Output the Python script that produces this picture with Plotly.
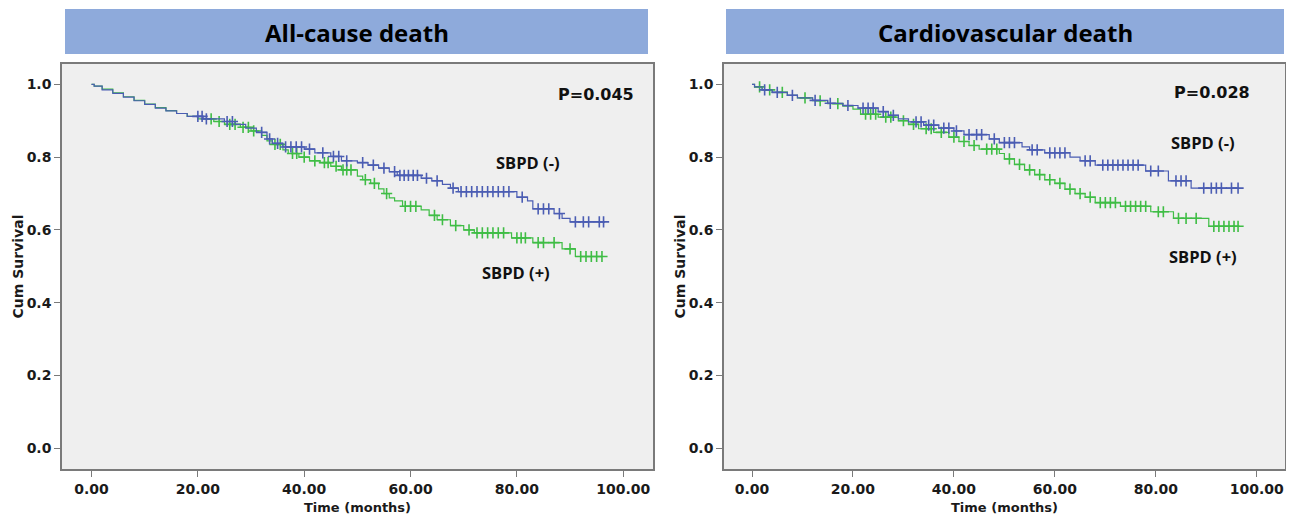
import numpy as np
import plotly.graph_objects as go

# ---------------- data ----------------
# All-cause death
ac_neg_t = [0, 0.5, 2, 4, 6, 8, 10, 12, 14, 16, 18, 21, 25, 27, 29, 31, 33, 34, 36, 40, 42, 45, 47, 50, 52, 54, 56, 57.5, 62, 64, 66, 67.5, 69, 80, 82, 83, 87, 88.5, 90, 96.5]
ac_neg_s = [1.0, 0.995, 0.985, 0.975, 0.965, 0.955, 0.945, 0.935, 0.927, 0.92, 0.912, 0.905, 0.898, 0.89, 0.88, 0.868, 0.85, 0.838, 0.828, 0.822, 0.812, 0.802, 0.79, 0.785, 0.778, 0.77, 0.76, 0.75, 0.742, 0.735, 0.725, 0.715, 0.705, 0.69, 0.68, 0.658, 0.645, 0.632, 0.622, 0.622]
ac_neg_cens = [20, 20.8, 21.6, 25.5, 26.5, 32, 33.5, 35, 36.5, 37.5, 38.5, 39.5, 41, 43.5, 45.5, 46.5, 48, 51, 53, 55, 57, 58, 58.8, 59.6, 60.5, 61.3, 63, 65, 68, 69.5, 70.5, 71.5, 72.5, 73.5, 74.5, 75.5, 76.5, 77.5, 78.5, 81, 84, 85, 86, 88, 91, 92.5, 93.5, 95.5, 96.3]
ac_pos_t = [0, 0.5, 2, 4, 6, 8, 10, 12, 14, 16, 18, 20, 23, 25, 28, 30, 32, 33, 34, 36, 37, 39, 41, 43, 45, 47, 50, 51, 52.5, 54, 55, 56, 57, 58.5, 62, 63.5, 65, 67.5, 70, 72, 79, 83, 88.5, 91, 96.5]
ac_pos_s = [1.0, 0.995, 0.987, 0.977, 0.966, 0.956, 0.946, 0.936, 0.928, 0.92, 0.912, 0.905, 0.898, 0.89, 0.882, 0.872, 0.86, 0.845, 0.835, 0.82, 0.81, 0.8, 0.79, 0.785, 0.775, 0.765, 0.748, 0.738, 0.728, 0.713, 0.7, 0.688, 0.68, 0.665, 0.655, 0.64, 0.628, 0.612, 0.6, 0.592, 0.578, 0.565, 0.548, 0.527, 0.527]
ac_pos_cens = [22.5, 24, 26, 27, 28.5, 29.5, 30.5, 34.5, 35.5, 37.8, 38.6, 40, 42, 43.8, 44.5, 46, 47.3, 48, 48.8, 51.5, 53.2, 55.5, 59, 60, 61, 64.5, 66, 68.5, 71, 72.5, 73.5, 74.5, 75.5, 76.5, 77.5, 80, 80.8, 81.6, 84, 85, 87, 90, 92, 93, 94, 95, 96]

# Cardiovascular death
cv_neg_t = [0, 0.5, 2, 4, 7, 9, 12, 15, 18, 21, 25, 27, 29, 31, 34, 37, 40, 42, 47, 49, 53.5, 55, 58, 63, 65, 68, 78, 82.5, 87, 96.5]
cv_neg_s = [1.0, 0.993, 0.985, 0.978, 0.97, 0.963, 0.956, 0.948, 0.942, 0.935, 0.925, 0.915, 0.905, 0.897, 0.888, 0.88, 0.872, 0.862, 0.85, 0.84, 0.828, 0.82, 0.812, 0.8, 0.79, 0.778, 0.762, 0.735, 0.715, 0.715]
cv_neg_cens = [2.5, 5, 8, 12.5, 15.5, 19, 22, 23, 24, 26, 28, 32.5, 33.5, 35, 36, 38, 39, 40.5, 43, 44.5, 45.5, 48, 50, 51, 52, 55.5, 56.5, 59, 60, 61, 62, 66, 67, 69.5, 70.5, 71.5, 72.5, 73.5, 74.5, 75.5, 76.5, 79, 80.5, 84, 85, 86, 89.5, 91, 92, 93, 95, 96.3]
cv_pos_t = [0, 0.5, 2, 4, 7, 9, 12, 15, 18, 20, 21.5, 25, 29, 31, 33, 36, 39, 41, 43, 45, 49, 50, 52, 54, 56, 58, 60, 62, 64, 66, 68, 73, 79, 83.5, 90.5, 96.5]
cv_pos_s = [1.0, 0.993, 0.985, 0.978, 0.97, 0.963, 0.955, 0.947, 0.94, 0.932, 0.918, 0.91, 0.9, 0.89, 0.878, 0.868, 0.855, 0.843, 0.832, 0.822, 0.81, 0.795, 0.78, 0.765, 0.752, 0.738, 0.728, 0.712, 0.7, 0.69, 0.675, 0.665, 0.65, 0.632, 0.61, 0.61]
cv_pos_cens = [1.5, 3.5, 6, 10.5, 13.5, 17, 22.5, 23.5, 24.5, 26.5, 27.5, 30, 32, 34.5, 35.5, 37.5, 40, 42, 44, 46.5, 47.5, 48.5, 51, 53, 55, 57, 59, 61, 63, 65, 67, 69, 70, 71, 72, 74, 75, 76, 77, 78, 80.5, 81.5, 84.5, 86, 88, 91.5, 92.5, 93.5, 94.5, 95.5, 96.3]

panel_titles = ["All-cause death", "Cardiovascular death"]
p_values = ["P=0.045", "P=0.028"]
group_labels = ["SBPD (-)", "SBPD (+)"]
x_ticks = [0, 20, 40, 60, 80, 100]
y_ticks = [0.0, 0.2, 0.4, 0.6, 0.8, 1.0]

BLUE = "#4b5db3"
GREEN = "#3fbd45"

# page has an 8px body margin: the figure starts at (8, 8)
OFF = 8
W, H = 1294 - OFF, 519 - OFF
SANS = "DejaVu Sans"
HEAD = "Open Sans"


def step_at(times, surv, t):
    idx = np.searchsorted(np.array(times), t, side="right") - 1
    return np.array(surv)[idx]


def px_x(p):
    return (p - OFF) / W


def px_y(p):
    return 1 - (p - OFF) / H


fig = go.Figure()

panels = [
    (ac_neg_t, ac_neg_s, ac_neg_cens, ac_pos_t, ac_pos_s, ac_pos_cens, "x", "y"),
    (cv_neg_t, cv_neg_s, cv_neg_cens, cv_pos_t, cv_pos_s, cv_pos_cens, "x2", "y2"),
]

for (nt, ns, nc, pt, ps, pc, xa, ya) in panels:
    for t, s, c, col in [(pt, ps, pc, GREEN), (nt, ns, nc, BLUE)]:
        fig.add_trace(go.Scatter(x=t, y=s, mode="lines", line=dict(color=col, width=1.2, shape="hv"),
                                 xaxis=xa, yaxis=ya, showlegend=False, hoverinfo="skip"))
        fig.add_trace(go.Scatter(x=c, y=step_at(t, s, c), mode="markers",
                                 marker=dict(symbol="cross-thin", size=8, line=dict(color=col, width=1.6)),
                                 xaxis=xa, yaxis=ya, showlegend=False, hoverinfo="skip"))

# geometry (page pixels)
plot_boxes = [(62, 653), (724, 1285)]
top_px, bot_px = 64, 469
title_boxes = [(65, 648), (726, 1284)]

axis_common = dict(showline=True, linecolor="#7a7a7a", linewidth=1.5, mirror=True,
                   ticks="outside", ticklen=6, tickcolor="#7a7a7a", tickwidth=1.2,
                   showgrid=False, zeroline=False,
                   tickfont=dict(family=SANS, size=14, color="#1a1a1a", weight="bold"))

layout = dict(width=W, height=H, margin=dict(l=0, r=0, t=0, b=0),
              paper_bgcolor="white", plot_bgcolor="#efefef", showlegend=False)

for i, (xl, xr) in enumerate(plot_boxes):
    sfx = "" if i == 0 else "2"
    layout["xaxis" + sfx] = dict(axis_common, domain=[px_x(xl), px_x(xr)], range=[-5.55, 105.6],
                                 tickvals=x_ticks, tickformat=".2f", anchor="y" + sfx)
    layout["yaxis" + sfx] = dict(axis_common, domain=[px_y(bot_px), px_y(top_px)], range=[-0.057, 1.056],
                                 tickvals=y_ticks, tickformat=".1f", anchor="x" + sfx)

fig.update_layout(**layout)

shapes = []
annotations = []
for i, (bl, br) in enumerate(title_boxes):
    shapes.append(dict(type="rect", xref="paper", yref="paper",
                       x0=px_x(bl), x1=px_x(br), y0=px_y(54), y1=px_y(9),
                       fillcolor="#8eaadb", line=dict(width=0), layer="below"))
    annotations.append(dict(xref="paper", yref="paper", x=px_x((bl + br) / 2), y=px_y(32),
                            text=panel_titles[i], showarrow=False, xanchor="center", yanchor="middle",
                            font=dict(family=HEAD, size=24, color="black", weight="bold")))
    xl, xr = plot_boxes[i]
    annotations.append(dict(xref="paper", yref="paper", x=px_x((xl + xr) / 2), y=px_y(507),
                            text="Time (months)", showarrow=False, xanchor="center", yanchor="middle",
                            font=dict(family=SANS, size=13, color="#1a1a1a", weight="bold")))
    annotations.append(dict(xref="paper", yref="paper", x=px_x(xl - 45), y=px_y((top_px + bot_px) / 2),
                            text="Cum Survival", showarrow=False, textangle=-90, xanchor="center", yanchor="middle",
                            font=dict(family=SANS, size=14, color="#1a1a1a", weight="bold")))

# in-plot labels (data coordinates)
label_pos = [
    [(94.8, 0.971), (82.0, 0.784), (79.9, 0.484)],
    [(91.1, 0.978), (89.3, 0.840), (89.3, 0.528)],
]
for i in range(2):
    xa = "x" if i == 0 else "x2"
    ya = "y" if i == 0 else "y2"
    (px_, py_), (nx, ny), (qx, qy) = label_pos[i]
    annotations.append(dict(xref=xa, yref=ya, x=px_, y=py_, text=p_values[i], showarrow=False,
                            font=dict(family=SANS, size=16, color="#111", weight="bold")))
    annotations.append(dict(xref=xa, yref=ya, x=nx, y=ny, text=group_labels[0], showarrow=False,
                            font=dict(family=HEAD, size=16.5, color="#111", weight="bold")))
    annotations.append(dict(xref=xa, yref=ya, x=qx, y=qy, text=group_labels[1], showarrow=False,
                            font=dict(family=HEAD, size=16.5, color="#111", weight="bold")))

fig.update_layout(shapes=shapes, annotations=annotations)
fig.write_html("out.html")
